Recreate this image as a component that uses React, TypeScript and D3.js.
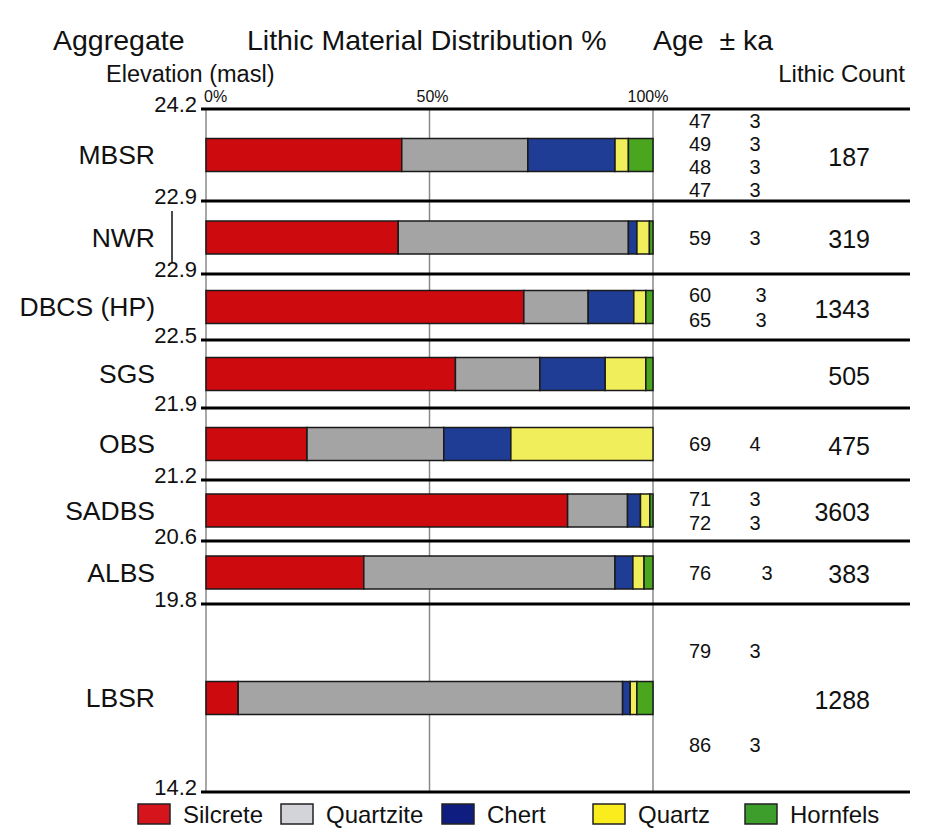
import React from 'react'
import { scaleLinear, stack } from 'd3'

// aggregates, top to bottom
const units = ['MBSR', 'NWR', 'DBCS (HP)', 'SGS', 'OBS', 'SADBS', 'ALBS', 'LBSR']
const elevations = ['24.2', '22.9', '22.9', '22.5', '21.9', '21.2', '20.6', '19.8', '14.2']
const materials = ['Silcrete', 'Quartzite', 'Chert', 'Quartz', 'Hornfels']

// % of lithics per material
const silcrete = [43.8, 43.0, 71.1, 55.8, 22.6, 80.9, 35.3, 7.2]
const quartzite = [28.2, 51.5, 14.4, 18.9, 30.6, 13.4, 56.2, 86.0]
const chert = [19.5, 1.9, 10.2, 14.6, 15.0, 2.9, 4.0, 1.7]
const quartz = [3.0, 2.8, 2.7, 9.1, 31.8, 2.1, 2.5, 1.5]
const hornfels = [5.5, 0.8, 1.6, 1.6, 0.0, 0.7, 2.0, 3.6]

const ages = [[47, 49, 48, 47], [59], [60, 65], [], [69], [71, 72], [76], [79, 86]]
const ageErrors = [[3, 3, 3, 3], [3], [3, 3], [], [4], [3, 3], [3], [3, 3]]
const lithicCount = [187, 319, 1343, 505, 475, 3603, 383, 1288]

const pctTicks = [0, 50, 100]

// colours
const barColors = ['#cd0a0e', '#a4a4a4', '#1f3d95', '#f1ee5c', '#4ba61f']
const legendColors = ['#d5141c', '#d3d3da', '#0f1c80', '#fbec1e', '#3d9e2c']

// layout: relative height of each aggregate row, gap between age lines
const rowSpan = [92, 73, 66, 68, 72, 61, 63, 188]
const ageGap = [23, 0, 25, 0, 0, 24, 0, 94]
const errShift = [0, 0, 6, 0, 0, 0, 12, 0]
const legendX = [138, 281, 442, 593, 745]

const font = 'Liberation Sans, Arial, sans-serif'

export default function App() {
  const width = 929
  const height = 829

  const x = scaleLinear().domain([0, 100]).range([206, 653])

  const cum = [0]
  rowSpan.forEach((s) => cum.push(cum[cum.length - 1] + s))
  const y = scaleLinear().domain([0, cum[cum.length - 1]]).range([109, 792])
  const mid = (i) => (y(cum[i]) + y(cum[i + 1])) / 2

  const table = units.map((u, i) => ({
    unit: u,
    Silcrete: silcrete[i],
    Quartzite: quartzite[i],
    Chert: chert[i],
    Quartz: quartz[i],
    Hornfels: hornfels[i],
  }))
  const series = stack().keys(materials)(table)
  const barH = 33

  return (
    <div style={{ position: 'absolute', left: 0, top: 0 }}>
      <svg width={width} height={height} style={{ display: 'block', background: '#fff' }} fontFamily={font} fill='#111'>
        {/* headings */}
        <text x={53} y={50} fontSize={28.5}>Aggregate</text>
        <text x={247} y={50} fontSize={28.5}>Lithic Material Distribution %</text>
        <text x={653} y={50} fontSize={28.5} style={{ whiteSpace: 'pre' }}>Age  ± ka</text>
        <text x={106} y={82} fontSize={23.5}>Elevation (masl)</text>
        <text x={905} y={82} fontSize={24} textAnchor='end'>Lithic Count</text>

        {pctTicks.map((t) => (
          <text
            key={t}
            x={t === 0 ? x(t) - 2 : x(t) + (t === 100 ? -5 : 3)}
            y={102}
            fontSize={16}
            textAnchor={t === 0 ? 'start' : 'middle'}
          >
            {t}%
          </text>
        ))}

        {/* vertical grid */}
        {pctTicks.map((t) => (
          <line key={t} x1={x(t)} x2={x(t)} y1={y(0)} y2={y(cum[cum.length - 1])} stroke='#8a8a8a' strokeWidth={1.5} />
        ))}

        {/* bars */}
        {series.map((s, k) =>
          s.map((d, i) =>
            d[1] - d[0] > 0 ? (
              <rect
                key={`${k}-${i}`}
                x={x(d[0])}
                y={mid(i) - barH / 2}
                width={x(d[1]) - x(d[0])}
                height={barH}
                fill={barColors[k]}
                stroke='#1a1a1a'
                strokeWidth={1.5}
              />
            ) : null
          )
        )}

        {/* boundaries */}
        {elevations.map((e, i) => (
          <g key={i}>
            <line x1={201} x2={910} y1={y(cum[i])} y2={y(cum[i])} stroke='#000' strokeWidth={3.2} />
            <text x={197} y={y(cum[i]) + 3} fontSize={22} textAnchor='end'>
              {e}
            </text>
          </g>
        ))}

        {/* NWR bracket */}
        <line x1={172} x2={172} y1={y(cum[1]) + 10} y2={y(cum[2]) - 11} stroke='#111' strokeWidth={1.5} />

        {/* unit labels, ages, counts */}
        {units.map((u, i) => {
          const n = ages[i].length
          return (
            <g key={u}>
              <text x={155} y={mid(i)} dy='0.35em' fontSize={26.5} textAnchor='end'>
                {u}
              </text>
              {ages[i].map((a, j) => {
                const yy = mid(i) + (j - (n - 1) / 2) * ageGap[i]
                return (
                  <g key={j}>
                    <text x={700} y={yy} dy='0.35em' fontSize={20} textAnchor='middle'>
                      {a}
                    </text>
                    <text x={755 + errShift[i]} y={yy} dy='0.35em' fontSize={20} textAnchor='middle'>
                      {ageErrors[i][j]}
                    </text>
                  </g>
                )
              })}
              <text x={870} y={mid(i) + 2} dy='0.35em' fontSize={25} textAnchor='end'>
                {lithicCount[i]}
              </text>
            </g>
          )
        })}

        {/* legend */}
        {materials.map((m, k) => (
          <g key={m}>
            <rect x={legendX[k]} y={804} width={32} height={20} fill={legendColors[k]} stroke='#222' strokeWidth={1.5} />
            <text x={legendX[k] + 45} y={823} fontSize={24}>
              {m}
            </text>
          </g>
        ))}
      </svg>
    </div>
  )
}
